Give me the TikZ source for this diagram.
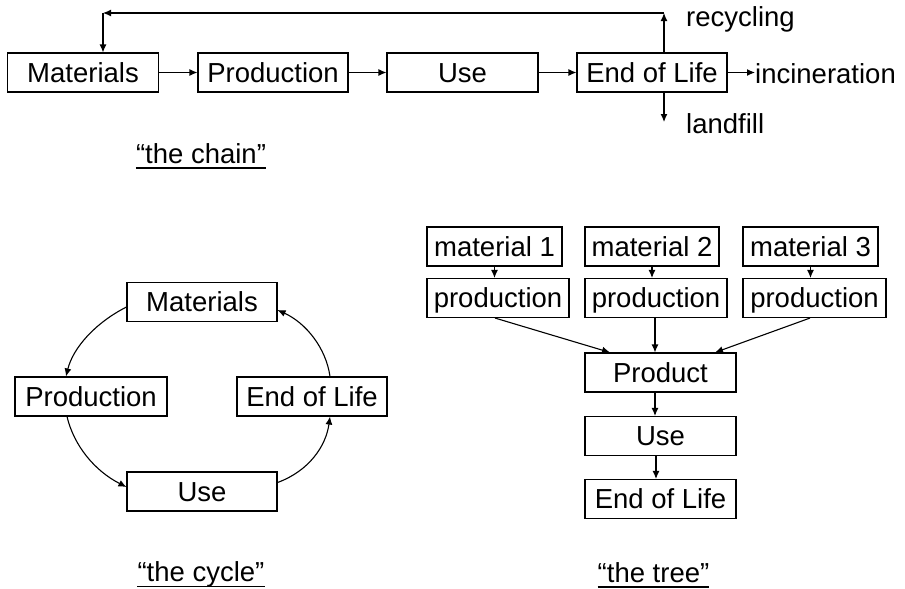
\documentclass[tikz,border=0pt]{standalone}
\usepackage{fontspec}
\setmainfont{Liberation Sans}
\usetikzlibrary{arrows.meta}
\begin{document}
\begin{tikzpicture}[x=1pt,y=-1pt,
  box/.style={draw, line width=1.1pt, inner xsep=0pt, inner ysep=0pt, minimum height=39pt,
              text height=19.7pt, text depth=0pt, font=\fontsize{27.5}{32}\selectfont},
  lbl/.style={inner sep=0pt, font=\fontsize{27.5}{32}\selectfont},
  arr/.style={line width=1.1pt, -{Latex[length=8pt,width=7pt]}},
  uline/.style={line width=1.6pt}]
\useasboundingbox (0,0) rectangle (905,589);

% ---------- the chain ----------
\node[box, minimum width=151pt] (a1) at (83,72.5) {Materials};
\node[box, minimum width=150pt] (a2) at (273,72.5) {Production};
\node[box, minimum width=151pt] (a3) at (462.5,72.5) {Use};
\node[box, minimum width=150pt] (a4) at (652,72.5) {End of Life};
\node[lbl, anchor=base west] (inc) at (755,83) {incineration};
\node[lbl, anchor=base west] (rec) at (686,27) {recycling};
\node[lbl, anchor=base west] (lan) at (686,133) {landfill};
\coordinate (rc) at (664,13);
\coordinate (mc) at (103,13);
\coordinate (lc) at (664,122);
\draw[arr] (a1) -- (a2);
\draw[arr] (a2) -- (a3);
\draw[arr] (a3) -- (a4);
\draw[arr] (a4.east) -- (a4.east -| inc.west);
\draw[arr] (a4.north -| rc) -- (rc);
\draw[arr] (rc) -- (mc);
\draw[arr] (mc) -- (mc |- a1.north);
\draw[arr] (a4.south -| lc) -- (lc);
\node[lbl, anchor=base] (t1) at (201,163) {“the chain”};
\draw[uline] ([yshift=-5pt]t1.base west) -- ([yshift=-5pt]t1.base east);

% ---------- the cycle ----------
\node[box, minimum width=150pt] (cm) at (202,302) {Materials};
\node[box, minimum width=152pt] (cp) at (91,396.5) {Production};
\node[box, minimum width=150pt] (ce) at (312,396.5) {End of Life};
\node[box, minimum width=150pt] (cu) at (202,491.5) {Use};
\draw[arr] ([yshift=-5pt]cm.west) .. controls (95,323) and (73,348) .. ([xshift=-25pt]cp.north);
\draw[arr] ([xshift=-24pt]cp.south) .. controls (74,446) and (95,471) .. ([yshift=4.5pt]cu.west);
\draw[arr] ([yshift=9pt]cu.east) .. controls (309,471) and (326,446) .. ([xshift=18pt]ce.south);
\draw[arr] ([xshift=18pt]ce.north) .. controls (326,348) and (306,323) .. ([yshift=-8pt]cm.east);
\node[lbl, anchor=base] (t2) at (201,581.5) {“the cycle”};
\draw[uline] ([yshift=-5pt]t2.base west) -- ([yshift=-5pt]t2.base east);

% ---------- the tree ----------
\node[box, minimum width=135pt] (m1) at (494.5,246.5) {material 1};
\node[box, minimum width=134pt] (m2) at (652,246.5) {material 2};
\node[box, minimum width=135pt] (m3) at (810.5,246.5) {material 3};
\node[box, minimum width=142pt] (p1) at (498,298) {production};
\node[box, minimum width=142pt] (p2) at (656,298) {production};
\node[box, minimum width=143pt] (p3) at (814.5,298) {production};
\node[box, minimum width=151pt] (pr) at (660.5,372.5) {Product};
\node[box, minimum width=151pt] (tu) at (660.5,436) {Use};
\node[box, minimum width=151pt] (te) at (660.5,499) {End of Life};
\draw[arr] (m1.south) -- (m1.south |- p1.north);
\draw[arr] (m2.south) -- (m2.south |- p2.north);
\draw[arr] (m3.south) -- (m3.south |- p3.north);
\draw[arr] ([xshift=-3pt]p1.south) -- ([xshift=-50.5pt]pr.north);
\draw[arr] ([xshift=-1pt]p2.south) -- ([xshift=-5.5pt]pr.north);
\draw[arr] ([xshift=-4.5pt]p3.south) -- ([xshift=54.5pt]pr.north);
\draw[arr] ([xshift=-5.5pt]pr.south) -- ([xshift=-5.5pt]tu.north);
\draw[arr] ([xshift=-4.5pt]tu.south) -- ([xshift=-4.5pt]te.north);
\node[lbl, anchor=base] (t3) at (653.5,582) {“the tree”};
\draw[uline] ([yshift=-5pt]t3.base west) -- ([yshift=-5pt]t3.base east);
\end{tikzpicture}
\end{document}
